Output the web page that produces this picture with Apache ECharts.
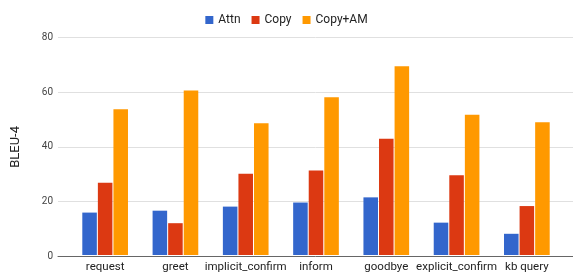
<!DOCTYPE html>
<html>
<head>
<meta charset="utf-8">
<script src="https://cdn.jsdelivr.net/npm/echarts@6/dist/echarts.min.js"></script>
<style>
  html, body { margin: 0; padding: 0; background: #fff; }
  #main { width: 573px; height: 273px; }
</style>
</head>
<body>
<div id="main"></div>
<script>
// 对话行为类别
const categories = ['request', 'greet', 'implicit_confirm', 'inform', 'goodbye', 'explicit_confirm', 'kb query'];
const attn = [15.6, 16.3, 17.8, 19.3, 21.2, 11.9, 7.8];
const copy = [26.6, 11.7, 29.9, 31.1, 42.8, 29.3, 18.0];
const copyAM = [53.6, 60.5, 48.5, 58.0, 69.4, 51.6, 48.8];
const yTicks = [0, 20, 40, 60, 80];

const font = 'Roboto, Arial, sans-serif';
const chart = echarts.init(document.getElementById('main'), null, { renderer: 'canvas' });

const option = {
    animation: false,
    legend: {
        top: 9,
        left: 'center',
        itemWidth: 8,
        itemHeight: 8,
        itemGap: 11,
        icon: 'rect',
        textStyle: { fontFamily: font, fontSize: 12, color: '#222' },
        data: ['Attn', 'Copy', 'Copy+AM']
    },
    grid: [
        { left: 70, right: 11, top: 37.5, bottom: 16.7 },   // 柱子区域
        { left: 58, right: 0, top: 37.5, bottom: 16.7 }     // 网格线与坐标轴
    ],
    xAxis: [
        {
            gridIndex: 0,
            type: 'category',
            data: categories,
            axisLine: { show: false },
            axisTick: { show: false },
            axisLabel: { interval: 0, margin: 6, fontFamily: font, fontSize: 11.5, color: '#222' }
        },
        {
            gridIndex: 1,
            type: 'value',
            min: 0,
            max: 1,
            axisLine: { show: true, onZero: false, lineStyle: { color: '#666', width: 1 } },
            axisTick: { show: false },
            axisLabel: { show: false },
            splitLine: { show: false }
        }
    ],
    yAxis: [
        {
            gridIndex: 0,
            type: 'value',
            min: 0,
            max: yTicks[yTicks.length - 1],
            interval: 20,
            axisLine: { show: false },
            axisTick: { show: false },
            axisLabel: { show: false },
            splitLine: { show: false }
        },
        {
            gridIndex: 1,
            type: 'value',
            min: 0,
            max: yTicks[yTicks.length - 1],
            interval: 20,
            name: 'BLEU-4',
            nameLocation: 'middle',
            nameGap: 36,
            nameTextStyle: { fontFamily: font, fontSize: 13, color: '#222' },
            axisLine: { show: false },
            axisTick: { show: false },
            axisLabel: { margin: 5, fontFamily: font, fontSize: 10, color: '#444' },
            splitLine: { show: true, lineStyle: { color: '#e0e0e0', width: 1 } }
        }
    ],
    series: [
        { name: 'Attn', type: 'bar', data: attn, itemStyle: { color: '#3366cc' }, barGap: '7%', barCategoryGap: '35%' },
        { name: 'Copy', type: 'bar', data: copy, itemStyle: { color: '#dc3912' } },
        { name: 'Copy+AM', type: 'bar', data: copyAM, itemStyle: { color: '#ff9900' } }
    ]
};
chart.setOption(option);
</script>
</body>
</html>
